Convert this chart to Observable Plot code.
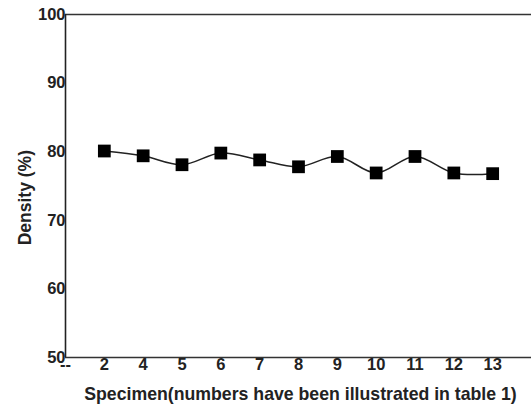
<!DOCTYPE html>
<html>
<head>
<meta charset="utf-8">
<script src="https://cdn.jsdelivr.net/npm/d3@7"></script>
<script src="https://cdn.jsdelivr.net/npm/@observablehq/plot@0.6"></script>
<style>
  html, body { margin: 0; padding: 0; background: #fff; }
  #chart svg { display: block; }
</style>
</head>
<body>
<div id="chart"></div>
<script>
const tickLabels = ["--", "2", "4", "5", "6", "7", "8", "9", "10", "11", "12", "13"];
const specimens = ["2", "4", "5", "6", "7", "8", "9", "10", "11", "12", "13"];
const density = [80.1, 79.4, 78.1, 79.8, 78.8, 77.8, 79.3, 76.9, 79.3, 76.9, 76.8];
const yTicks = [50, 60, 70, 80, 90, 100];

const data = specimens.map((s, i) => ({ pos: tickLabels.indexOf(s), value: density[i] }));

const chart = Plot.plot({
  width: 531,
  height: 409,
  marginLeft: 65,
  marginRight: 0,
  marginTop: 14,
  marginBottom: 52,
  style: { fontFamily: "'Liberation Sans', Arial, sans-serif", background: "#fff" },
  x: { domain: [0, 12] },
  y: { domain: [50, 100] },
  marks: [
    Plot.ruleY([50, 100], { stroke: "#333", strokeWidth: 1.6 }),
    Plot.ruleX([0], { stroke: "#222", strokeWidth: 1.6 }),
    Plot.axisY({
      ticks: yTicks,
      tickSize: 0,
      tickPadding: 0,
      fontSize: 16.5,
      fontWeight: "bold",
      fill: "#222",
      label: null,
      style: { letterSpacing: "-0.8px" }
    }),
    Plot.axisX({
      ticks: d3.range(tickLabels.length),
      tickFormat: (d) => tickLabels[d],
      tickSize: 0,
      tickPadding: 1,
      fontSize: 16.5,
      fontWeight: "bold",
      fill: "#222",
      label: null,
      style: { letterSpacing: "-0.8px" }
    }),
    Plot.text(["Density (%)"], {
      x: [-1.03],
      y: [73.3],
      textAnchor: "middle",
      lineAnchor: "middle",
      rotate: -90,
      fontSize: 17.5,
      fontWeight: "bold",
      fill: "#222"
    }),
    Plot.line(data, { x: "pos", y: "value", curve: "catmull-rom", stroke: "#222", strokeWidth: 1.5 }),
    Plot.dot(data, { x: "pos", y: "value", symbol: "square", r: 7.2, fill: "#000", stroke: "none" }),
    Plot.text(["Specimen(numbers have been illustrated in table 1)"], {
      frameAnchor: "bottom",
      x: [6],
      dx: 2,
      dy: 42,
      fontSize: 17.7,
      fontWeight: "bold",
      fill: "#222",
      style: { letterSpacing: "-0.15px" }
    })
  ]
});
document.getElementById("chart").appendChild(chart);
</script>
</body>
</html>
